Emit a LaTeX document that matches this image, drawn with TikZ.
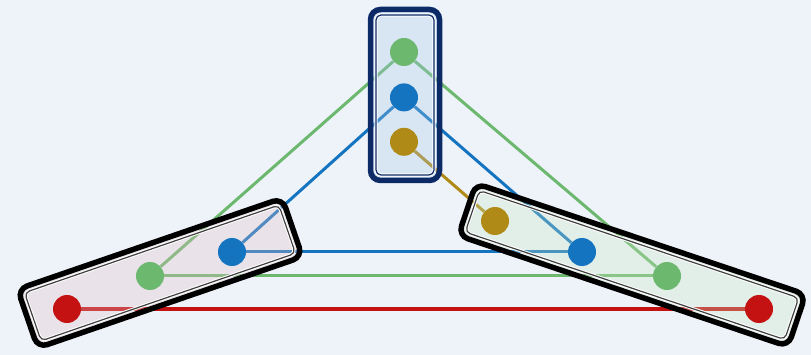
\documentclass[tikz,border=0pt]{standalone}
\usetikzlibrary{backgrounds,positioning}

\definecolor{paper}{HTML}{EEF3FA}
\definecolor{cgreen}{HTML}{6DB86F}
\definecolor{cblue}{HTML}{1474C0}
\definecolor{cgold}{HTML}{B08A16}
\definecolor{cred}{HTML}{C41212}
\definecolor{navy}{HTML}{0C2A66}
\definecolor{tfill}{HTML}{A8C8E8}
\definecolor{lfill}{HTML}{E0BDC0}
\definecolor{rfill}{HTML}{C8E5C0}

\begin{document}
\begin{tikzpicture}[
  x=1pt, y=-1pt,
  dot/.style={circle, fill=#1, minimum size=28pt, inner sep=0pt},
  link/.style={draw=#1, line width=3pt},
  grp/.style={draw=#1, line width=5.5pt, rounded corners=10pt,
    inner sep=0pt},
  grpin/.style={draw=#1, line width=1.2pt, rounded corners=5pt,
    inner sep=0pt, preaction={draw=white, line width=3.2pt}}
]
% vertices: top column
\node[dot=cgreen] (tg) at (404,52) {};
\node[dot=cblue, below=17pt of tg] (tb) {};
\node[dot=cgold, below=16pt of tb] (ty) {};
% left group
\node[dot=cred] (lr) at (67,309) {};
\node[dot=cgreen] (lg) at (150,276) {};
\node[dot=cblue] (lb) at (232,252) {};
% right group
\node[dot=cgold] (ry) at (495,221) {};
\node[dot=cblue] (rb) at (582,252) {};
\node[dot=cgreen] (rg) at (667,276) {};
\node[dot=cred] (rr) at (759,309) {};

\begin{scope}[on background layer]
  \fill[paper] (0,0) rectangle (811,355);
  % edges
  \draw[link=cgreen] (tg) -- (lg);
  \draw[link=cgreen] (tg) -- (rg);
  \draw[link=cgreen] (lg) -- (rg);
  \draw[link=cblue] (tb) -- (lb);
  \draw[link=cblue] (tb) -- (rb);
  \draw[link=cblue] (lb) -- (rb);
  \draw[link=cgold] (ty) -- (ry);
  \draw[link=cred] (lr) -- (rr);
  % group frames
  \node[grp=navy, fill=tfill, fill opacity=0.3,
    minimum width=69pt, minimum height=171pt] (topgrp) at (405,95) {};
  \node[grpin=navy, minimum width=58pt, minimum height=160pt]
    (topgrp-in) at (topgrp.center) {};
  \node[grp=black, fill=lfill, fill opacity=0.3, rotate=19,
    minimum width=280pt, minimum height=62pt] (leftgrp) at (160,273) {};
  \node[grpin=black!75, rotate=19, minimum width=269pt,
    minimum height=51pt] (leftgrp-in) at (leftgrp.center) {};
  \node[grp=black, fill=rfill, fill opacity=0.3, rotate=-18.6,
    minimum width=348pt, minimum height=55pt] (rightgrp) at (632,265) {};
  \node[grpin=black!75, rotate=-18.6, minimum width=337pt,
    minimum height=44pt] (rightgrp-in) at (rightgrp.center) {};
\end{scope}
\end{tikzpicture}
\end{document}
